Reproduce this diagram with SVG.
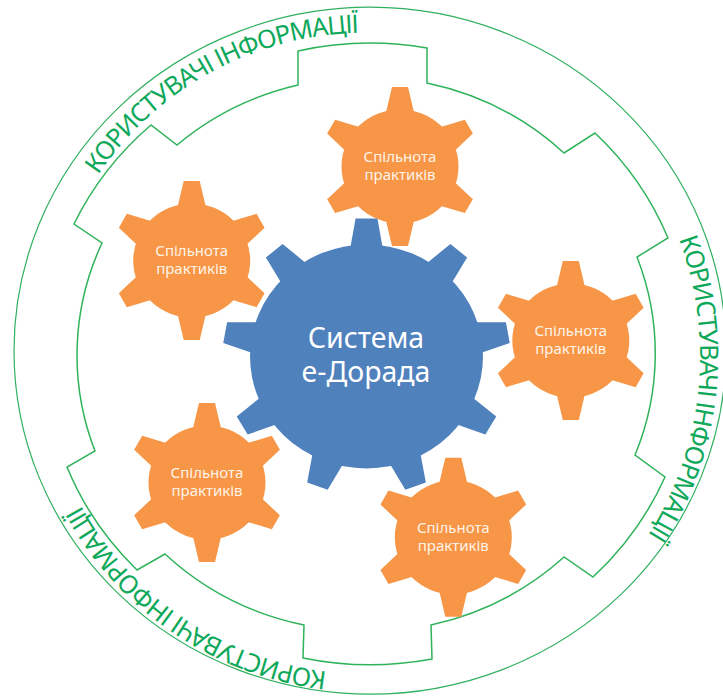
<svg xmlns="http://www.w3.org/2000/svg" width="723" height="696" viewBox="0 0 723 696">
<style>
.ring{fill:none;stroke:#30b060;stroke-width:1.2}
.inner{fill:none;stroke:#2fb35a;stroke-width:1.5;stroke-linejoin:miter}
.o{fill:#f79646}
.b{fill:#4f81bd}
.lab{font-family:"Noto Sans","Open Sans",sans-serif;font-size:15px;fill:#fff3e8;text-anchor:middle}
.big{font-family:"Noto Sans","Open Sans",sans-serif;font-size:28.5px;fill:#fff;text-anchor:middle}
.ct{font-family:"Noto Sans","Open Sans",sans-serif;font-size:25.5px;letter-spacing:-1.15px;fill:#0ea85a}
</style>
<defs>
<g id="ogear">
<ellipse rx="58.5" ry="57" class="o"/>
<polygon id="ot" class="o" points="-8,-79.5 8,-79.5 15,-50 -15,-50"/>
<use href="#ot" transform="rotate(60)"/>
<use href="#ot" transform="rotate(120)"/>
<use href="#ot" transform="rotate(180)"/>
<use href="#ot" transform="rotate(240)"/>
<use href="#ot" transform="rotate(300)"/>
</g>
<g id="bgear">
<circle r="112" class="b"/>
<polygon id="bt" class="b" points="-10.5,-138 10.5,-138 16.2,-105 -16.2,-105"/>
<use href="#bt" transform="rotate(40)"/>
<use href="#bt" transform="rotate(80)"/>
<use href="#bt" transform="rotate(120)"/>
<use href="#bt" transform="rotate(160)"/>
<use href="#bt" transform="rotate(200)"/>
<use href="#bt" transform="rotate(240)"/>
<use href="#bt" transform="rotate(280)"/>
<use href="#bt" transform="rotate(320)"/>
</g>
<path id="t1" d="M98,175 A324,323 0 0 1 500,61.4"/>
<path id="t2" d="M679,239 A333,334.5 0 0 1 540,641.8"/>
<path id="t3" d="M327,671.6 A324,318 0 0 1 45,391"/>
</defs>
<g id="connectors"></g>
<g id="users-ring">
<ellipse class="ring" cx="370" cy="350.7" rx="356" ry="343.5"/>
<path class="inner" d="M298,85 A287,275 0 0 0 177,145 L151,125 A322,308 0 0 0 74,224 L102,243 A287,275 0 0 0 95,451 L67,467 A322,308 0 0 0 137,570 L165,554 A287,275 0 0 0 304,625 L303,658 A322,308 0 0 0 432,659 L431,625 A287,275 0 0 0 564,557 L593,577 A322,308 0 0 0 665,477 L635,455 A287,275 0 0 0 637,257 L668,238 A322,308 0 0 0 595,133 L564,153 A287,275 0 0 0 427,83 L427,48 A322,308 0 0 0 298,51 Z"/>
<text class="ct"><textPath href="#t1">КОРИСТУВАЧІ ІНФОРМАЦІЇ</textPath></text>
<text class="ct"><textPath href="#t2">КОРИСТУВАЧІ ІНФОРМАЦІЇ</textPath></text>
<text class="ct"><textPath href="#t3">КОРИСТУВАЧІ ІНФОРМАЦІЇ</textPath></text>
</g>
<g id="gear-top"><use href="#ogear" transform="translate(400,166.4)"/><text class="lab" x="400" y="161.6">Спільнота</text><text class="lab" x="400" y="180.2">практиків</text></g>
<g id="gear-left"><use href="#ogear" transform="translate(191.7,260.5)"/><text class="lab" x="191.7" y="255.7">Спільнота</text><text class="lab" x="191.7" y="274.3">практиків</text></g>
<g id="gear-right"><use href="#ogear" transform="translate(570.8,340.5)"/><text class="lab" x="570.8" y="335.7">Спільнота</text><text class="lab" x="570.8" y="354.3">практиків</text></g>
<g id="gear-bottom-left"><use href="#ogear" transform="translate(207,482.5)"/><text class="lab" x="207" y="477.7">Спільнота</text><text class="lab" x="207" y="496.3">практиків</text></g>
<g id="gear-bottom-right"><use href="#ogear" transform="translate(453.3,537.3)"/><text class="lab" x="453.3" y="532.5">Спільнота</text><text class="lab" x="453.3" y="551.1">практиків</text></g>
<g id="gear-center"><use href="#bgear" transform="translate(366.5,356.5) scale(1.04,1)"/><text class="big" x="366" y="347.7">Система</text><text class="big" x="366" y="381.7">е-Дорада</text></g>
</svg>
